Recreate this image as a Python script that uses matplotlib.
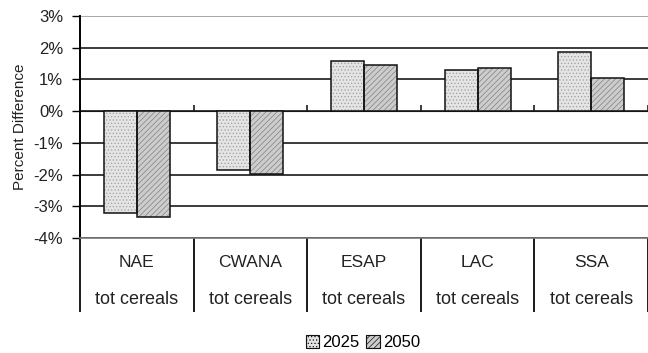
import matplotlib.pyplot as plt
import numpy as np
from matplotlib.patches import Patch

plt.rcParams['font.family'] = ['Liberation Sans', 'DejaVu Sans']
plt.rcParams['hatch.linewidth'] = 0.5

regions = ['NAE', 'CWANA', 'ESAP', 'LAC', 'SSA']
commodity = 'tot cereals'
years = ['2025', '2050']
diff_2025 = [-3.21, -1.86, 1.59, 1.31, 1.87]
diff_2050 = [-3.35, -1.97, 1.47, 1.37, 1.06]
yticks = [-4, -3, -2, -1, 0, 1, 2, 3]

fill = {'2025': ('#e4e4e4', '#a0a0a0', '.....'),
        '2050': ('#cdcdcd', '#808080', '//////')}
txt = '#222222'

fig = plt.figure(figsize=(6.48, 3.53), dpi=100)
ax = fig.add_axes([0.1235, 0.3258, 0.8765, 0.6289])

x = np.arange(len(regions)) + 0.5
w = 0.29
for off, yr, vals in [(-w / 2, '2025', diff_2025), (w / 2, '2050', diff_2050)]:
    fc, hc, hatch = fill[yr]
    # hatched fill, then a black outline on top
    ax.bar(x + off, vals, w, color=fc, edgecolor=hc, lw=0, hatch=hatch, zorder=3)
    ax.bar(x + off, vals, w, fill=False, edgecolor='#111111', lw=1.1, zorder=4)

ax.set_xlim(0, len(regions))
ax.set_ylim(yticks[0], yticks[-1])
ax.set_yticks(yticks)
ax.set_yticklabels([f'{t}%' for t in yticks], fontsize=12, color=txt)
ax.yaxis.grid(True, color='#1a1a1a', lw=1.2, zorder=1)
ax.get_ygridlines()[-1].set_color('#999999')
ax.tick_params(axis='y', length=6, width=1.0, pad=6)
ax.set_ylabel('Percent Difference', fontsize=11, color=txt, labelpad=5)

for s in ['top', 'right']:
    ax.spines[s].set_visible(False)
ax.spines['left'].set_linewidth(1.4)
ax.spines['bottom'].set_color('#777777')
ax.spines['bottom'].set_linewidth(1.2)

# separators of the two-level category labels
ax.set_xticks(np.arange(len(regions) + 1))
ax.set_xticklabels([])
ax.tick_params(axis='x', length=53, width=1.4, color='#1a1a1a')

# short category ticks along the zero line
zero_pos = (0 - yticks[0]) / (yticks[-1] - yticks[0])
sec = ax.secondary_xaxis(zero_pos)
sec.set_xticks(np.arange(len(regions) + 1))
sec.set_xticklabels([])
sec.tick_params(length=4.5, width=1.2, color='#1a1a1a')
sec.spines['bottom'].set_visible(False)

trans = ax.get_xaxis_transform()
for xi, r in zip(x, regions):
    ax.text(xi, -0.112, r, transform=trans, ha='center', va='center',
            fontsize=12.5, color=txt)
    ax.text(xi, -0.275, commodity, transform=trans, ha='center', va='center',
            fontsize=13, color=txt)

handles = [Patch(facecolor=fill[yr][0], edgecolor='#111111', hatch=fill[yr][2], lw=0.8)
           for yr in years]
fig.legend(handles, years, loc='center', bbox_to_anchor=(0.56, 0.03),
           ncol=2, frameon=False, fontsize=12, handlelength=0.8,
           handleheight=0.8, handletextpad=0.2, columnspacing=0.4,
           borderpad=0.1)

fig.savefig('out.png', dpi=100)
